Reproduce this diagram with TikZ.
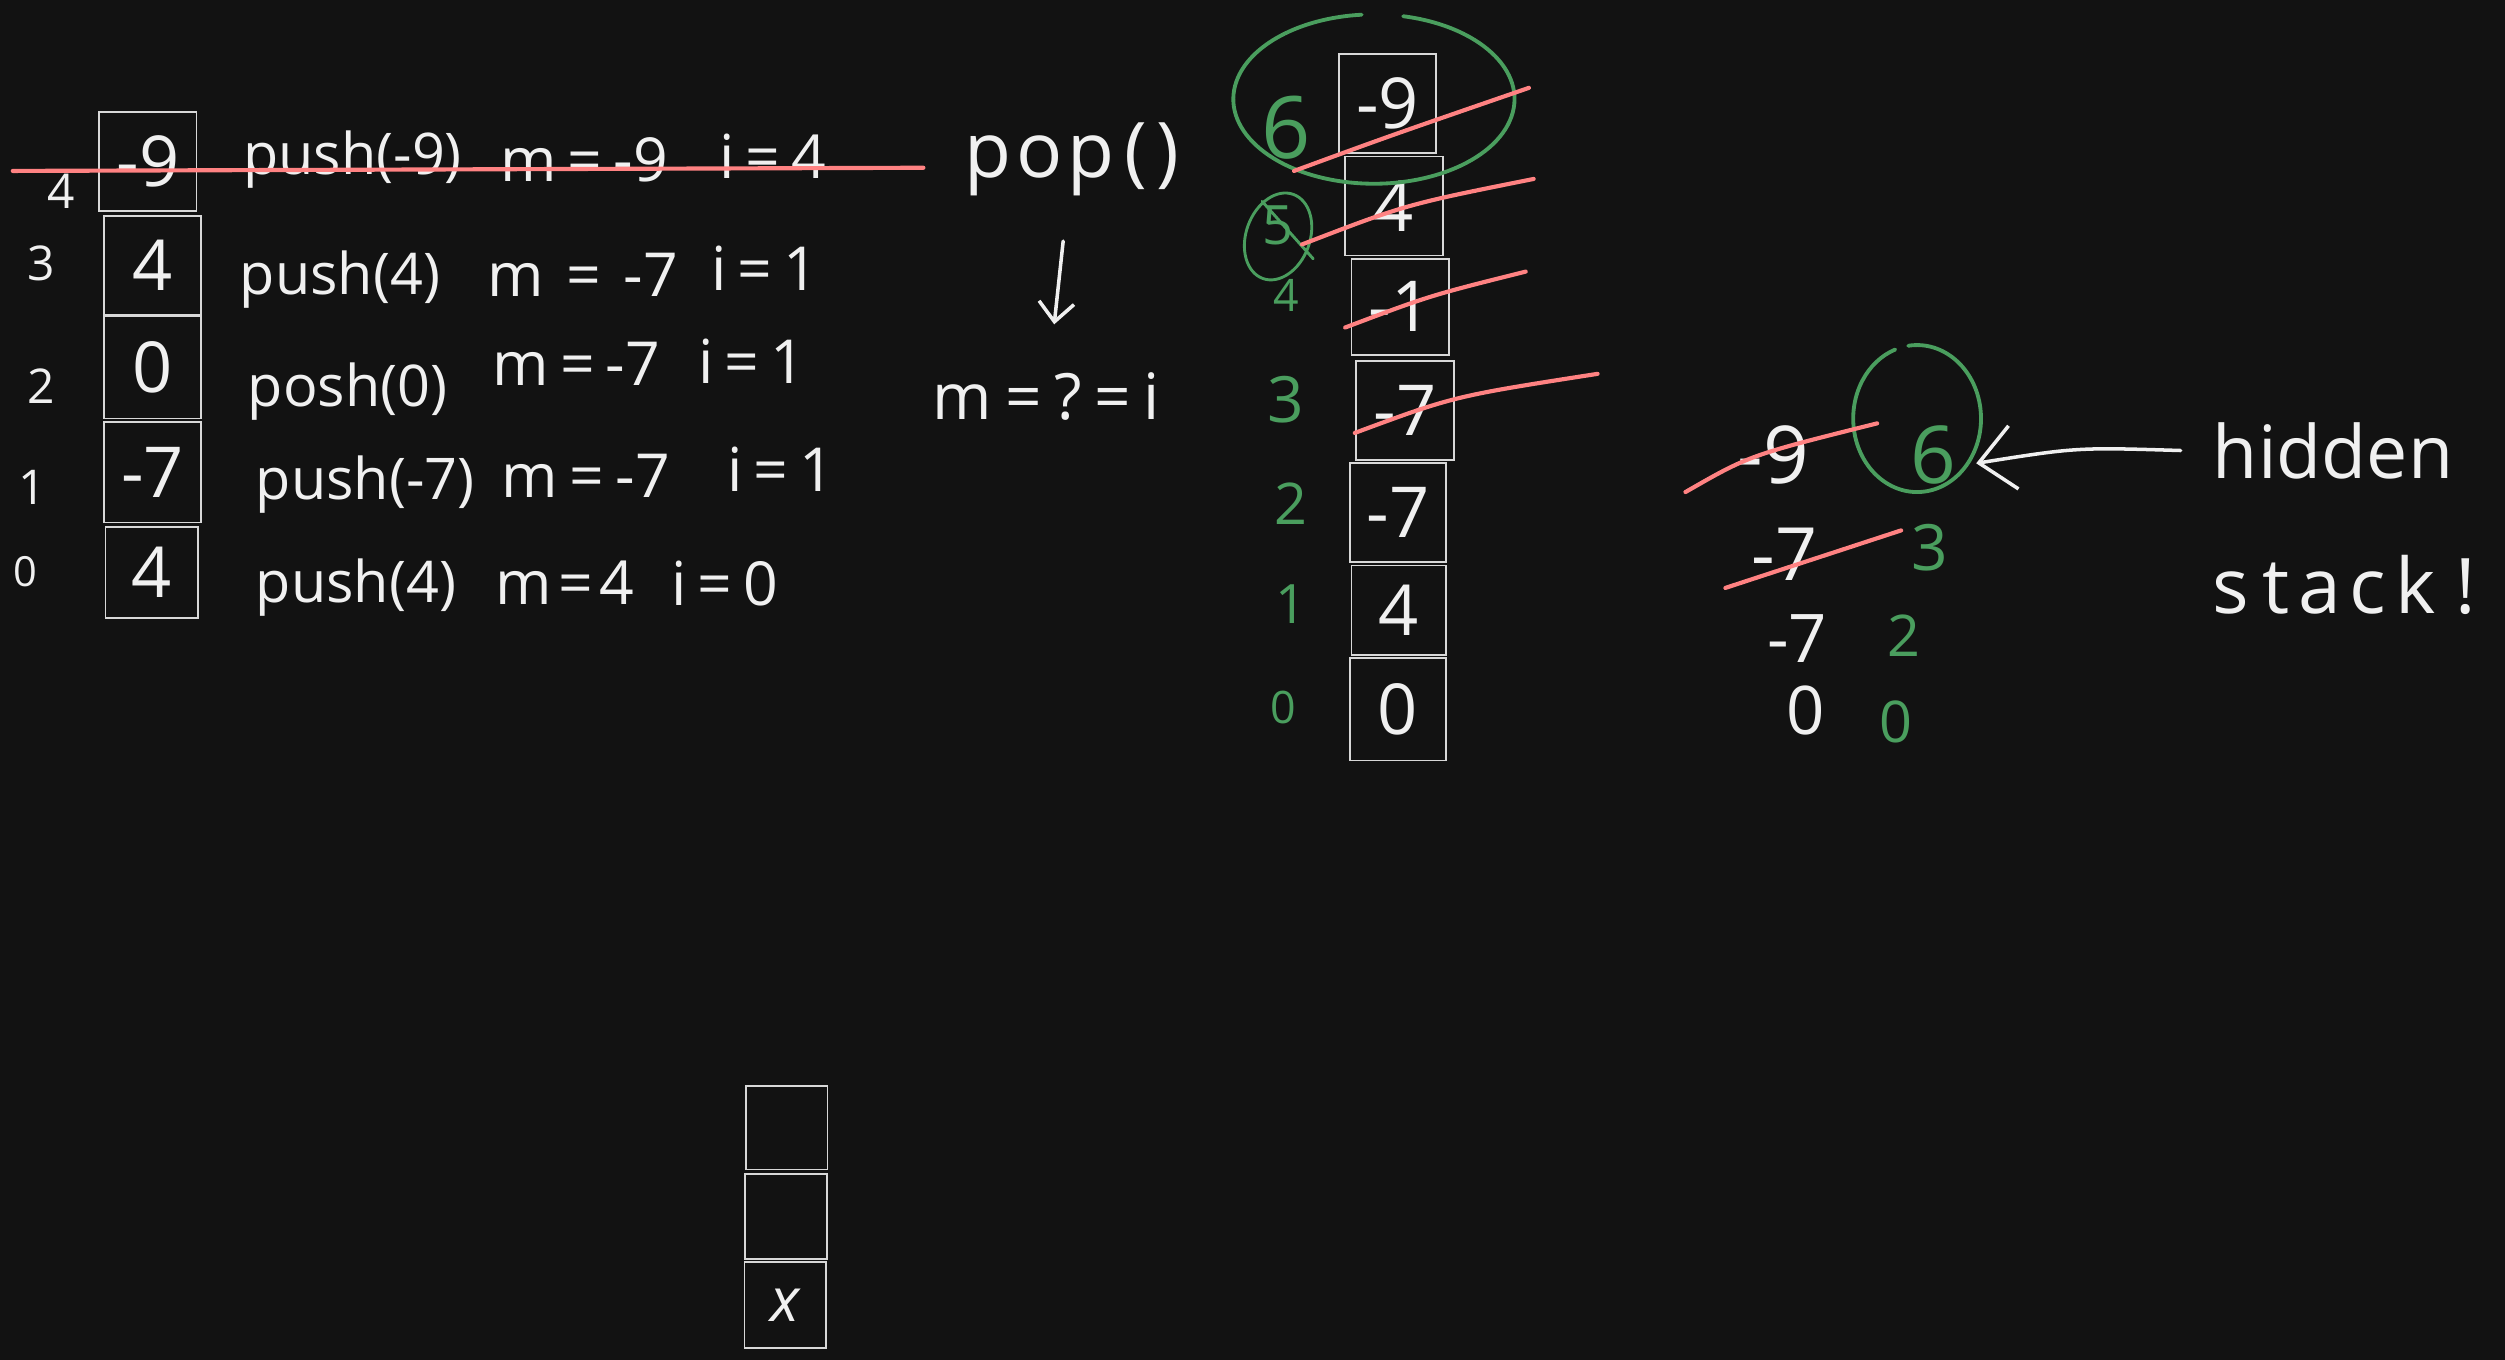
\documentclass[tikz,border=0pt]{standalone}
\usepackage{fontspec}
\setmainfont{Open Sans}
\usetikzlibrary{arrows.meta}
\definecolor{bg}{HTML}{121212}
\definecolor{ink}{HTML}{F0F0F0}
\definecolor{boxink}{HTML}{D8D8D8}
\definecolor{redink}{HTML}{FF8282}
\definecolor{greenink}{HTML}{4A9E5E}
\newcommand{\fs}[1]{\fontsize{#1}{#1}\selectfont}
\newcommand{\eqsp}{\hspace{7pt}=\hspace{7pt}}
\begin{document}
\begin{tikzpicture}[x=1pt,y=-1pt,
  cell/.style={draw=boxink, line width=1.1pt, minimum width=61pt, minimum height=62pt, inner sep=0pt, text=ink, font=\fs{44}},
  lbl/.style={text=ink, font=\fs{38}, inner sep=0pt, anchor=west},
  call/.style={lbl, font=\fs{36}},
  idx/.style={text=ink, font=\fs{30}, inner sep=0pt},
  gidx/.style={text=greenink, font=\fs{34}, inner sep=0pt},
  val/.style={text=ink, font=\fs{42}, inner sep=0pt},
  strike/.style={draw=redink, line width=2.6pt, line cap=round},
  ring/.style={draw=greenink, line width=2.4pt, line cap=round},
  pen/.style={draw=ink, line width=2.2pt, line cap=round}
]
\fill[bg] (0,0) rectangle (1568,851);
\useasboundingbox (0,0) rectangle (1568,851);

% ---------------- left stack ----------------
\node[cell] (L4) at (92.5,101) {-9};
\node[cell] (L3) at (95.5,166) {4};
\node[cell, minimum height=64pt] (L2) at (95.5,230) {0};
\node[cell, minimum height=63pt] (L1) at (95.5,295.5) {-7};
\node[cell, minimum width=58pt, minimum height=57pt] (L0) at (95,358.5) {4};

\node[idx] (i4) at (38,120) {4};
\node[idx] (i3) at (26,165) {3};
\node[idx] (i2) at (26,242) {2};
\node[idx] (i1) at (20,305) {1};
\node[idx, font=\fs{26}] (i0) at (16,358) {0};

% line 4
\node[call] (p4) at (152,100) {push(-9)};
\node[lbl] (m4) at (313,100) {m\eqsp-9};
\node[lbl] (c4) at (450,98) {i\eqsp4};
% line 3
\node[call] (p3) at (150,175) {push(4)};
\node[lbl] (m3) at (305,172) {m\hspace{14pt}=\hspace{14pt}-7};
\node[lbl] (c3) at (445,168) {i\eqsp1};
% line 2
\node[call] (p2) at (155,245) {posh(0)};
\node[lbl] (m2) at (308,228) {m\eqsp-7};
\node[lbl] (c2) at (437,226) {i\eqsp1};
% line 1
\node[call] (p1) at (160,303) {push(-7)};
\node[lbl] (m1) at (314,298) {m\eqsp-7};
\node[lbl] (c1) at (455,294) {i\eqsp1};
% line 0
\node[call] (p0) at (160,368) {push(4)};
\node[lbl] (m0) at (310,365) {m\hspace{4pt}=\hspace{4pt}4};
\node[lbl] (c0) at (420,365) {i\eqsp0};

\coordinate (s0a) at (8,107);
\coordinate (s0b) at (578,105);
\draw[strike] (s0a) -- (s0b);

% ---------------- middle ----------------
\node[text=ink, font=\fs{48}, inner sep=0pt] (pop) at (671,100) {p\hspace{3pt}o\hspace{3pt}p\hspace{6pt}(\hspace{6pt})};
\node[text=ink, font=\fs{40}, inner sep=0pt] (meq) at (655,248) {m\hspace{8pt}=\hspace{8pt}?\hspace{8pt}=\hspace{8pt}i};
\draw[pen, -{Straight Barb[length=12pt,width=22pt]}, shorten <=28pt, shorten >=30pt] (pop) -- (meq);

% ---------------- right stack ----------------
\node[cell] (R6) at (868.5,65) {-9};
\node[cell] (R5) at (872.5,129) {4};
\node[cell, minimum height=60pt] (R4) at (876.5,192) {-1};
\node[cell] (R3) at (879.5,257) {-7};
\node[cell, minimum width=60pt] (R2) at (875,321) {-7};
\node[cell, minimum width=59pt, minimum height=56pt] (R1) at (875.5,382) {4};
\node[cell, minimum width=60pt, minimum height=64pt] (R0) at (875,444) {0};

\node[gidx, font=\fs{54}] (g6) at (805,80) {6};
\node[gidx] (g5) at (800,141) {5};
\node[gidx, font=\fs{28}] (g4) at (805,185) {4};
\node[gidx, font=\fs{40}] (g3) at (805,250) {3};
\node[gidx, font=\fs{36}] (g2) at (808,315) {2};
\node[gidx, font=\fs{34}] (g1) at (808,378) {1};
\node[gidx, font=\fs{28}] (g0) at (803,443) {0};

\draw[ring] (860,62) ++(282:88 and 53) arc[start angle=282, end angle=625, x radius=88, y radius=53];
\draw[ring, line width=1.8pt, rotate around={-20:(800,148)}] (800,148) ellipse [x radius=20, y radius=28];
\coordinate (sl5a) at (790,126);
\coordinate (sl5b) at (822,162);
\draw[ring, line width=1.8pt] (sl5a) -- (sl5b);

\coordinate (r6a) at (810,107);  \coordinate (r6b) at (957,55);
\coordinate (r5a) at (815,153);  \coordinate (r5b) at (960,112);
\coordinate (r4a) at (842,205);  \coordinate (r4b) at (955,170);
\coordinate (r3a) at (848,271);  \coordinate (r3b) at (1000,234);
\draw[strike] (r6a) .. controls (870,85) .. (r6b);
\draw[strike] (r5a) .. controls (880,128) .. (r5b);
\draw[strike] (r4a) .. controls (895,185) .. (r4b);
\draw[strike] (r3a) .. controls (910,248) .. (r3b);

% ---------------- hidden stack ----------------
\node[val, font=\fs{50}] (h9) at (1110,285) {-9};
\node[gidx, font=\fs{50}] (h6) at (1210,285) {6};
\draw[ring] (1200,262) ++(262:40 and 46) arc[start angle=262, end angle=610, x radius=40, y radius=46];
\coordinate (hs9a) at (1055,308); \coordinate (hs9b) at (1175,265);
\draw[strike] (hs9a) .. controls (1095,285) .. (hs9b);

\node[val, font=\fs{46}] (h7a) at (1117,347) {-7};
\node[gidx, font=\fs{40}] (h3) at (1208,343) {3};
\coordinate (hs7a) at (1080,368); \coordinate (hs7b) at (1190,332);
\draw[strike] (hs7a) -- (hs7b);

\node[val] (h7b) at (1125,400) {-7};
\node[gidx, font=\fs{36}] (h2) at (1192,398) {2};
\node[val] (h0) at (1130,445) {0};
\node[gidx, font=\fs{36}] (h0g) at (1187,452) {0};

\node[text=ink, font=\fs{46}, inner sep=0pt, anchor=west] (hid) at (1385,282) {hidden};
\node[text=ink, font=\fs{48}, inner sep=0pt, anchor=west] (stk) at (1385,366) {s\hspace{8pt}t\hspace{6pt}a\hspace{5pt}c\hspace{6pt}k\hspace{12pt}!};
\coordinate (arrEnd) at (1237,290);
\draw[pen, -{Straight Barb[length=22pt,width=40pt]}] ([xshift=-20pt]hid.west) .. controls (1300,280) .. (arrEnd);

% ---------------- bottom stack ----------------
\node[cell, minimum width=51pt, minimum height=52pt] (B2) at (492.5,706) {};
\node[cell, minimum width=51pt, minimum height=53pt] (B1) at (492,761.5) {};
\node[cell, minimum width=51pt, minimum height=54pt, font=\fs{38}\itshape] (B0) at (491.5,817) {x};
\end{tikzpicture}
\end{document}
